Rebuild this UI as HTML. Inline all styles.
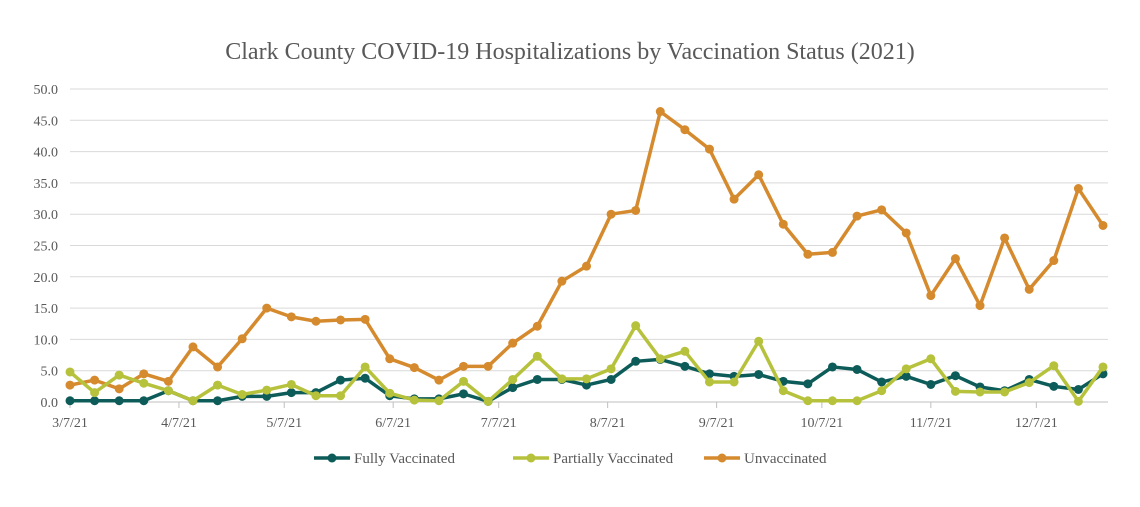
<!DOCTYPE html>
<html><head><meta charset="utf-8"><style>
body{margin:0;background:#fff;font-family:"Liberation Serif",serif;}
</style></head><body>
<svg id="c" width="1140" height="502" xmlns="http://www.w3.org/2000/svg">
<text x="570" y="59" text-anchor="middle" font-size="24" fill="#595959">Clark County COVID-19 Hospitalizations by Vaccination Status (2021)</text>
<g id="grid"></g><g id="xaxis"></g><g id="series"></g><g id="legend"></g>
</svg>
<script>
const xLabels=["3/7/21","4/7/21","5/7/21","6/7/21","7/7/21","8/7/21","9/7/21","10/7/21","11/7/21","12/7/21"];
const xLabelWeeks=[0,4.43,8.71,13.14,17.43,21.86,26.29,30.57,35,39.29];
const yTicks=[0,5,10,15,20,25,30,35,40,45,50];
const fully=[0.2,0.2,0.2,0.2,1.8,0.2,0.2,0.9,0.9,1.5,1.5,3.5,3.8,1.0,0.5,0.5,1.3,0.1,2.3,3.6,3.6,2.7,3.6,6.5,6.8,5.7,4.5,4.1,4.4,3.3,2.9,5.6,5.2,3.2,4.1,2.8,4.2,2.4,1.8,3.6,2.5,2.0,4.5];
const partial=[4.8,1.5,4.3,3.0,1.8,0.2,2.7,1.2,1.9,2.8,1.0,1.0,5.6,1.4,0.3,0.2,3.3,0.1,3.6,7.3,3.7,3.7,5.3,12.2,6.9,8.1,3.2,3.2,9.7,1.8,0.2,0.2,0.2,1.8,5.3,6.9,1.7,1.6,1.6,3.1,5.8,0.1,5.6];
const unvax=[2.7,3.5,2.1,4.5,3.3,8.8,5.6,10.1,15.0,13.6,12.9,13.1,13.2,6.9,5.5,3.5,5.7,5.7,9.4,12.1,19.3,21.7,30.0,30.6,46.4,43.5,40.4,32.4,36.3,28.4,23.6,23.9,29.7,30.7,27.0,17.0,22.9,15.4,26.2,18.0,22.6,34.1,28.2];
const NS="http://www.w3.org/2000/svg";
const x0=70,x1=1103,y0=402,y50=89;
const X=i=>x0+(x1-x0)*i/42, Y=v=>y0+(y50-y0)*v/50;
function mk(t,a,p){const e=document.createElementNS(NS,t);for(const k in a)e.setAttribute(k,a[k]);p.appendChild(e);return e;}
const grid=document.getElementById('grid');
yTicks.forEach(v=>{
 const l=mk('line',{x1:x0,x2:1108,y1:Y(v),y2:Y(v),stroke:v===0?'#bfbfbf':'#d9d9d9','stroke-width':1},grid);
 
 
 const t=mk('text',{x:58,y:Y(v)+5,'text-anchor':'end','font-size':14,fill:'#595959'},grid);
 t.textContent=v.toFixed(1);
 
 
});
const xa=document.getElementById('xaxis');
xLabels.forEach((s,i)=>{
 const xx=X(xLabelWeeks[i]);
 const tk=mk('line',{x1:xx,x2:xx,y1:y0,y2:y0+6,stroke:'#bfbfbf'},xa);
 
 
 const t=mk('text',{x:xx,y:427,'text-anchor':'middle','font-size':14,fill:'#595959'},xa);
 t.textContent=s;
 
 
});
const ser=document.getElementById('series');
function draw(arr,color,name){
 const g=mk('g',{},ser);
 
 
 const pl=mk('polyline',{points:arr.map((v,i)=>X(i)+','+Y(v)).join(' '),fill:'none',stroke:color,'stroke-width':3.5,'stroke-linejoin':'round'},g);
 
 
 arr.forEach((v,i)=>{
  const c=mk('circle',{cx:X(i),cy:Y(v),r:4.5,fill:color},g);
  
  
 });
}
draw(unvax,'#d58a2e','unvaccinated');
draw(fully,'#0d5c5a','fully-vaccinated');
draw(partial,'#b7c23c','partially-vaccinated');
const lg=document.getElementById('legend');
[['Fully Vaccinated','#0d5c5a',314,'legend-fully-vaccinated'],['Partially Vaccinated','#b7c23c',513,'legend-partially-vaccinated'],['Unvaccinated','#d58a2e',704,'legend-unvaccinated']].forEach(d=>{
 const g=mk('g',{},lg);
 
 
 mk('line',{x1:d[2],x2:d[2]+36,y1:458,y2:458,stroke:d[1],'stroke-width':3.5},g);
 mk('circle',{cx:d[2]+18,cy:458,r:4.5,fill:d[1]},g);
 const t=mk('text',{x:d[2]+40,y:463,'font-size':15,fill:'#595959'},g);
 t.textContent=d[0];
});
</script>
</body></html>
